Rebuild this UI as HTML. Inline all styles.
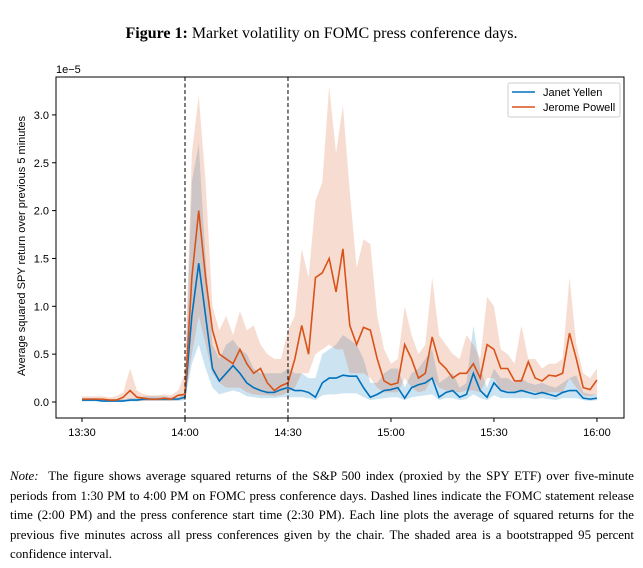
<!DOCTYPE html>
<html><head><meta charset="utf-8"><style>
body{margin:0;background:#fff;width:643px;height:568px;overflow:hidden;position:relative}
.title{position:absolute;top:25px;left:0;width:643px;text-align:center;font:16px "Liberation Serif",serif}
.note{position:absolute;left:10px;top:467px;width:624px;font:12.85px/19.5px "Liberation Serif",serif;text-align:justify}
svg text{font-family:"Liberation Sans",sans-serif}
</style></head><body>
<div class="title"><b>Figure 1:</b> Market volatility on FOMC press conference days.</div>
<svg id="chart" width="643" height="460" style="position:absolute;left:0;top:0"></svg>
<div class="note"><i>Note:</i>&nbsp; The figure shows average squared returns of the S&amp;P 500 index (proxied by the SPY ETF) over five-minute periods from 1:30 PM to 4:00 PM on FOMC press conference days. Dashed lines indicate the FOMC statement release time (2:00 PM) and the press conference start time (2:30 PM). Each line plots the average of squared returns for the previous five minutes across all press conferences given by the chair. The shaded area is a bootstrapped 95 percent confidence interval.</div>
<script>
const minutes=[0,2,4,6,8,10,12,14,16,18,20,22,24,26,28,30,32,34,36,38,40,42,44,46,48,50,52,54,56,58,60,62,64,66,68,70,72,74,76,78,80,82,84,86,88,90,92,94,96,98,100,102,104,106,108,110,112,114,116,118,120,122,124,126,128,130,132,134,136,138,140,142,144,146,148,150];
const powell=[0.03,0.03,0.03,0.03,0.02,0.02,0.05,0.12,0.05,0.04,0.03,0.03,0.04,0.03,0.07,0.08,1.3,2.0,1.3,0.75,0.5,0.45,0.4,0.55,0.4,0.3,0.35,0.2,0.12,0.17,0.2,0.45,0.8,0.5,1.3,1.35,1.5,1.15,1.6,0.8,0.6,0.78,0.75,0.45,0.22,0.18,0.2,0.6,0.45,0.25,0.3,0.68,0.42,0.35,0.25,0.3,0.3,0.4,0.25,0.6,0.55,0.35,0.35,0.22,0.22,0.42,0.25,0.22,0.28,0.27,0.3,0.72,0.45,0.15,0.13,0.23];
const powellHi=[0.06,0.06,0.06,0.06,0.05,0.06,0.1,0.35,0.12,0.08,0.07,0.07,0.08,0.07,0.12,0.3,2.6,3.2,2.3,1.0,0.75,0.9,0.7,0.95,0.75,0.8,0.6,0.5,0.45,0.45,0.75,0.9,1.6,1.3,2.1,2.3,3.3,2.6,3.1,2.2,1.4,1.7,1.65,0.9,0.55,0.4,0.45,1.0,0.7,0.5,0.6,1.3,0.7,0.6,0.5,0.45,0.7,0.6,0.45,1.1,1.0,0.55,0.5,0.4,0.8,0.45,0.45,0.35,0.4,0.4,0.45,1.3,0.6,0.3,0.25,0.35];
const powellLo=[0.01,0.01,0.01,0.01,0.01,0.01,0.01,0.02,0.01,0.01,0.01,0.01,0.01,0.01,0.02,0.03,0.5,0.9,0.6,0.3,0.2,0.15,0.15,0.15,0.1,0.08,0.07,0.07,0.06,0.07,0.1,0.15,0.3,0.3,0.5,0.55,0.6,0.55,0.55,0.3,0.3,0.3,0.25,0.15,0.1,0.1,0.1,0.25,0.15,0.1,0.12,0.25,0.15,0.12,0.1,0.1,0.12,0.12,0.1,0.25,0.25,0.12,0.12,0.1,0.1,0.12,0.1,0.08,0.1,0.1,0.1,0.25,0.15,0.07,0.06,0.08];
const yellen=[0.02,0.02,0.02,0.01,0.01,0.01,0.01,0.02,0.02,0.03,0.03,0.03,0.03,0.03,0.03,0.05,0.9,1.45,0.9,0.35,0.22,0.3,0.38,0.3,0.2,0.15,0.12,0.1,0.1,0.13,0.15,0.12,0.12,0.1,0.05,0.2,0.25,0.25,0.28,0.27,0.27,0.15,0.05,0.08,0.12,0.13,0.15,0.04,0.15,0.18,0.2,0.25,0.05,0.1,0.12,0.05,0.08,0.3,0.12,0.05,0.2,0.12,0.1,0.1,0.12,0.1,0.08,0.1,0.08,0.06,0.1,0.12,0.12,0.04,0.03,0.04];
const yellenHi=[0.04,0.04,0.04,0.03,0.03,0.03,0.03,0.04,0.04,0.06,0.06,0.06,0.06,0.05,0.05,0.1,2.3,2.7,1.5,0.6,0.45,0.6,0.65,0.55,0.5,0.35,0.3,0.3,0.3,0.3,0.35,0.3,0.3,0.25,0.25,0.5,0.55,0.6,0.7,0.65,0.6,0.45,0.2,0.2,0.3,0.35,0.35,0.15,0.3,0.35,0.45,0.55,0.2,0.25,0.3,0.15,0.2,0.8,0.35,0.15,0.35,0.25,0.25,0.2,0.25,0.2,0.18,0.2,0.17,0.15,0.2,0.25,0.28,0.1,0.08,0.08];
const yellenLo=[0.005,0.005,0.005,0.005,0.005,0.005,0.005,0.005,0.005,0.01,0.01,0.01,0.01,0.01,0.01,0.02,0.4,0.6,0.35,0.15,0.08,0.1,0.12,0.1,0.06,0.05,0.04,0.04,0.04,0.05,0.05,0.05,0.05,0.04,0.02,0.07,0.08,0.08,0.09,0.09,0.09,0.05,0.02,0.03,0.04,0.05,0.05,0.02,0.05,0.06,0.07,0.08,0.02,0.04,0.04,0.02,0.03,0.08,0.04,0.02,0.07,0.04,0.04,0.04,0.04,0.04,0.03,0.04,0.03,0.02,0.04,0.04,0.04,0.02,0.01,0.02];
const yTicks=[0,0.5,1,1.5,2,2.5,3];
const xTickMin=[0,30,60,90,120,150];
const xTickLabels=["13:30","14:00","14:30","15:00","15:30","16:00"];
const NS="http://www.w3.org/2000/svg";
const svg=document.getElementById('chart');
const X=m=>82+m*3.433, Y=v=>402-v*95.7;
function mk(t,a,p){const e=document.createElementNS(NS,t);for(const k in a)e.setAttribute(k,a[k]);(p||svg).appendChild(e);return e;}
function band(lo,hi,col,name){let d='M'+minutes.map((m,i)=>X(m)+','+Y(hi[i])).join('L');
for(let i=minutes.length-1;i>=0;i--)d+='L'+X(minutes[i])+','+Y(lo[i]);
const e=mk('path',{d:d+'Z',fill:col,'fill-opacity':0.2,stroke:'none'});

}
function line(v,col,name){const e=mk('polyline',{points:minutes.map((m,i)=>X(m)+','+Y(v[i])).join(' '),fill:'none',stroke:col,'stroke-width':1.6});

}
band(yellenLo,yellenHi,'#0072BD','yellen-ci-band');
band(powellLo,powellHi,'#D95319','powell-ci-band');
line(yellen,'#0072BD','yellen-line');
line(powell,'#D95319','powell-line');
[30,60].forEach(m=>{const e=mk('line',{x1:X(m),x2:X(m),y1:77,y2:418,stroke:'#000','stroke-width':1,'stroke-dasharray':'4,2.5'});

});
const fr=mk('rect',{x:56,y:77,width:568,height:341,fill:'none',stroke:'#000','stroke-width':1});


yTicks.forEach(v=>{mk('line',{x1:52,x2:56,y1:Y(v),y2:Y(v),stroke:'#000'});
const t=mk('text',{x:49,y:Y(v)+4,'text-anchor':'end','font-size':11});t.textContent=v.toFixed(1);

});
xTickMin.forEach((m,i)=>{mk('line',{x1:X(m),x2:X(m),y1:418,y2:422,stroke:'#000'});
const t=mk('text',{x:X(m),y:436,'text-anchor':'middle','font-size':11});t.textContent=xTickLabels[i];

});
const ex=mk('text',{x:56,y:73,'font-size':11});ex.textContent='1e\u22125';


const yl=mk('text',{x:0,y:0,'font-size':11,'text-anchor':'middle',transform:'translate(25,246) rotate(-90)'});yl.textContent='Average squared SPY return over previous 5 minutes';


const lg=mk('g',{});


mk('rect',{x:508,y:83,width:112,height:34,rx:2,fill:'#fff',stroke:'#ccc'},lg);
[['Janet Yellen','#0072BD',92],['Jerome Powell','#D95319',107]].forEach(([n,c,y])=>{
mk('line',{x1:512,x2:535,y1:y,y2:y,stroke:c,'stroke-width':1.6},lg);
const t=mk('text',{x:543,y:y+4,'font-size':11},lg);t.textContent=n;

});
</script>
</body></html>
